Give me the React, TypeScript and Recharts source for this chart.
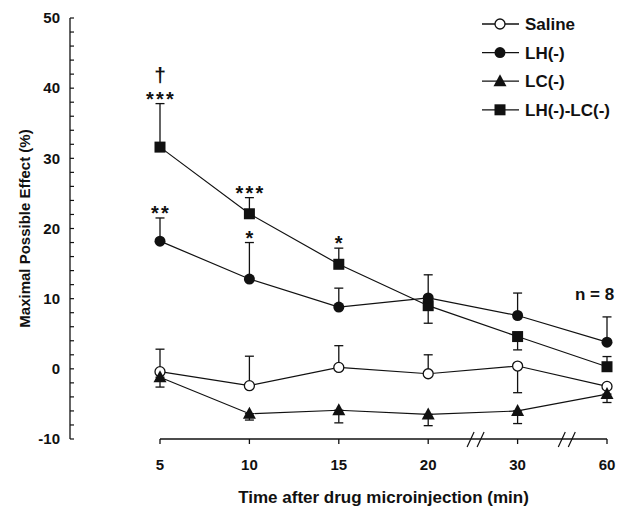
import React from 'react'
import { LineChart, Line, XAxis, YAxis, ErrorBar, ReferenceLine, ReferenceDot } from 'recharts'

const times = ['5', '10', '15', '20', '30', '60']
const yTicks = [-10, -8, -6, -4, -2, 0, 2, 4, 6, 8, 10, 12, 14, 16, 18, 20, 22, 24, 26, 28, 30, 32, 34, 36, 38, 40, 42, 44, 46, 48, 50]

const saline = [-0.4, -2.4, 0.2, -0.7, 0.4, -2.5]
const salineUp = [3.2, 4.2, 3.1, 2.7, 0, 0]
const salineDown = [0, 0, 0, 0, 3.8, 0]

const lh = [18.2, 12.8, 8.8, 10.1, 7.6, 3.8]
const lhUp = [3.3, 5.2, 2.7, 3.3, 3.2, 3.6]
const lhDown = [0, 0, 0, 0, 0, 0]

const lc = [-1.2, -6.4, -5.9, -6.5, -6.0, -3.6]
const lcUp = [0, 0, 0, 0, 0, 0]
const lcDown = [1.4, 0.9, 1.8, 1.6, 1.8, 1.2]

const combo = [31.6, 22.1, 14.9, 9.0, 4.6, 0.3]
const comboUp = [6.2, 2.3, 2.3, 0, 0, 1.45]
const comboDown = [0, 0, 0, 2.5, 1.9, 0]

// significance marks, sitting on top of the error bar of the given series
const starMarks = [
  { key: 'combo', i: 0, text: '***' },
  { key: 'combo', i: 1, text: '***' },
  { key: 'combo', i: 2, text: '*' },
  { key: 'lh', i: 0, text: '**' },
  { key: 'lh', i: 1, text: '*' },
]
const daggerMarks = [{ key: 'combo', i: 0, text: '\u2020' }]

// axis breaks (in category index units)
const axisBreaks = [3.53, 4.55]

const FONT = '"Liberation Sans", Arial, Helvetica, sans-serif'
const INK = '#111'

type Kind = 'open' | 'circle' | 'triangle' | 'square'

const series = [
  { key: 'saline', name: 'Saline', mean: saline, up: salineUp, down: salineDown, kind: 'open' as Kind },
  { key: 'combo', name: 'LH(-)-LC(-)', mean: combo, up: comboUp, down: comboDown, kind: 'square' as Kind },
  { key: 'lh', name: 'LH(-)', mean: lh, up: lhUp, down: lhDown, kind: 'circle' as Kind },
  { key: 'lc', name: 'LC(-)', mean: lc, up: lcUp, down: lcDown, kind: 'triangle' as Kind },
]
const legendOrder = ['saline', 'lh', 'lc', 'combo']

const data = times.map((t, i) => {
  const row: Record<string, any> = { i, time: t }
  series.forEach((s) => {
    row[s.key] = s.mean[i]
    row[s.key + 'Err'] = [s.down[i], s.up[i]]
  })
  return row
})

function Marker({ kind, cx, cy }: { kind: Kind; cx: number; cy: number }) {
  if (kind === 'open') return <circle cx={cx} cy={cy} r={5} fill="#fff" stroke={INK} strokeWidth={1.3} />
  if (kind === 'circle') return <circle cx={cx} cy={cy} r={5.5} fill={INK} />
  if (kind === 'triangle')
    return <path d={`M${cx},${cy - 7}L${cx + 6.5},${cy + 5}L${cx - 6.5},${cy + 5}Z`} fill={INK} />
  return <rect x={cx - 5.5} y={cy - 5.5} width={11} height={11} fill={INK} />
}

function Legend() {
  return (
    <svg width={628} height={507} style={{ position: 'absolute', left: 0, top: 0, pointerEvents: 'none' }}>
      {legendOrder.map((k, n) => {
        const s = series.find((x) => x.key === k)!
        const y = 24 + n * 28.6
        return (
          <g key={k}>
            <line x1={482} x2={519} y1={y} y2={y} stroke={INK} strokeWidth={1.3} />
            <Marker kind={s.kind} cx={500} cy={y} />
            <text x={525} y={y + 6} fontFamily={FONT} fontWeight="bold" fontSize={17} fill={INK}>
              {s.name}
            </text>
          </g>
        )
      })}
      <text x={575} y={300} fontFamily={FONT} fontWeight="bold" fontSize={17} fill={INK}>
        n = 8
      </text>
    </svg>
  )
}

export default function App() {
  const byKey = Object.fromEntries(series.map((s) => [s.key, s]))
  return (
    <div style={{ position: 'absolute', left: 0, top: 0, width: 628, height: 507, background: '#fff' }}>
      <LineChart width={628} height={507} data={data} margin={{ top: 18, right: 21, bottom: 0, left: 0 }}>
        <XAxis
          type="number"
          dataKey="i"
          domain={[0, times.length - 1]}
          ticks={times.map((_, i) => i)}
          interval={0}
          padding={{ left: 90, right: 0 }}
          tickFormatter={(v) => times[v]}
          height={68}
          tickSize={5}
          tickMargin={15}
          axisLine={false}
          tickLine={{ stroke: INK, strokeWidth: 1.3 }}
          tick={{ fill: INK, fontSize: 15, fontWeight: 'bold', fontFamily: FONT }}
          label={{
            value: 'Time after drug microinjection (min)',
            position: 'insideBottom',
            offset: 4,
            dx: 45,
            fill: INK,
            fontSize: 17,
            fontWeight: 'bold',
            fontFamily: FONT,
          }}
        />
        <YAxis
          type="number"
          domain={[-10, 50]}
          ticks={yTicks}
          interval={0}
          tickFormatter={(v) => (v % 10 === 0 ? String(v) : '')}
          width={70}
          tickSize={-4}
          tickMargin={14}
          axisLine={{ stroke: INK, strokeWidth: 1.3 }}
          tickLine={{ stroke: INK, strokeWidth: 1.2 }}
          tick={{ fill: INK, fontSize: 15, fontWeight: 'bold', fontFamily: FONT }}
          label={{
            value: 'Maximal Possible Effect (%)',
            angle: -90,
            position: 'center',
            dx: -10,
            fill: INK,
            fontSize: 15,
            fontWeight: 'bold',
            fontFamily: FONT,
          }}
        />
        <ReferenceLine
          segment={[{ x: 0, y: -10 }, { x: times.length - 1, y: -10 }]}
          stroke={INK}
          strokeWidth={1.3}
          ifOverflow="visible"
        />
        {axisBreaks.map((b) => (
          <ReferenceDot
            key={b}
            x={b}
            y={-10}
            r={0}
            ifOverflow="visible"
            shape={(p: any) => (
              <g stroke={INK} strokeWidth={1.2}>
                <line x1={p.cx - 8.5} y1={p.cy + 8} x2={p.cx - 1.5} y2={p.cy - 7} />
                <line x1={p.cx + 1.5} y1={p.cy + 8} x2={p.cx + 8.5} y2={p.cy - 7} />
              </g>
            )}
          />
        ))}
        {series.map((s) => (
          <Line
            key={s.key}
            dataKey={s.key}
            type="linear"
            stroke={INK}
            strokeWidth={1.2}
            isAnimationActive={false}
            dot={(p: any) => <Marker key={`${s.key}-${p.index}`} kind={s.kind} cx={p.cx} cy={p.cy} />}
            activeDot={false}
          >
            <ErrorBar dataKey={s.key + 'Err'} direction="y" width={4.5} stroke={INK} strokeWidth={1.3} isAnimationActive={false} />
          </Line>
        ))}
        {starMarks.map((m, k) => {
          const s = byKey[m.key]
          return (
            <ReferenceDot
              key={'s' + k}
              x={m.i}
              y={s.mean[m.i] + s.up[m.i]}
              r={0}
              ifOverflow="visible"
              shape={(p: any) => (
                <text
                  x={p.cx + 1}
                  y={p.cy + 2}
                  textAnchor="middle"
                  fontFamily={FONT}
                  fontWeight="bold"
                  fontSize={20}
                  letterSpacing={2.2}
                  fill={INK}
                >
                  {m.text}
                </text>
              )}
            />
          )
        })}
        {daggerMarks.map((m, k) => {
          const s = byKey[m.key]
          return (
            <ReferenceDot
              key={'d' + k}
              x={m.i}
              y={s.mean[m.i] + s.up[m.i]}
              r={0}
              ifOverflow="visible"
              shape={(p: any) => (
                <text x={p.cx} y={p.cy - 21.5} textAnchor="middle" fontFamily={FONT} fontWeight="bold" fontSize={21} fill={INK}>
                  {m.text}
                </text>
              )}
            />
          )
        })}
      </LineChart>
      <Legend />
    </div>
  )
}
